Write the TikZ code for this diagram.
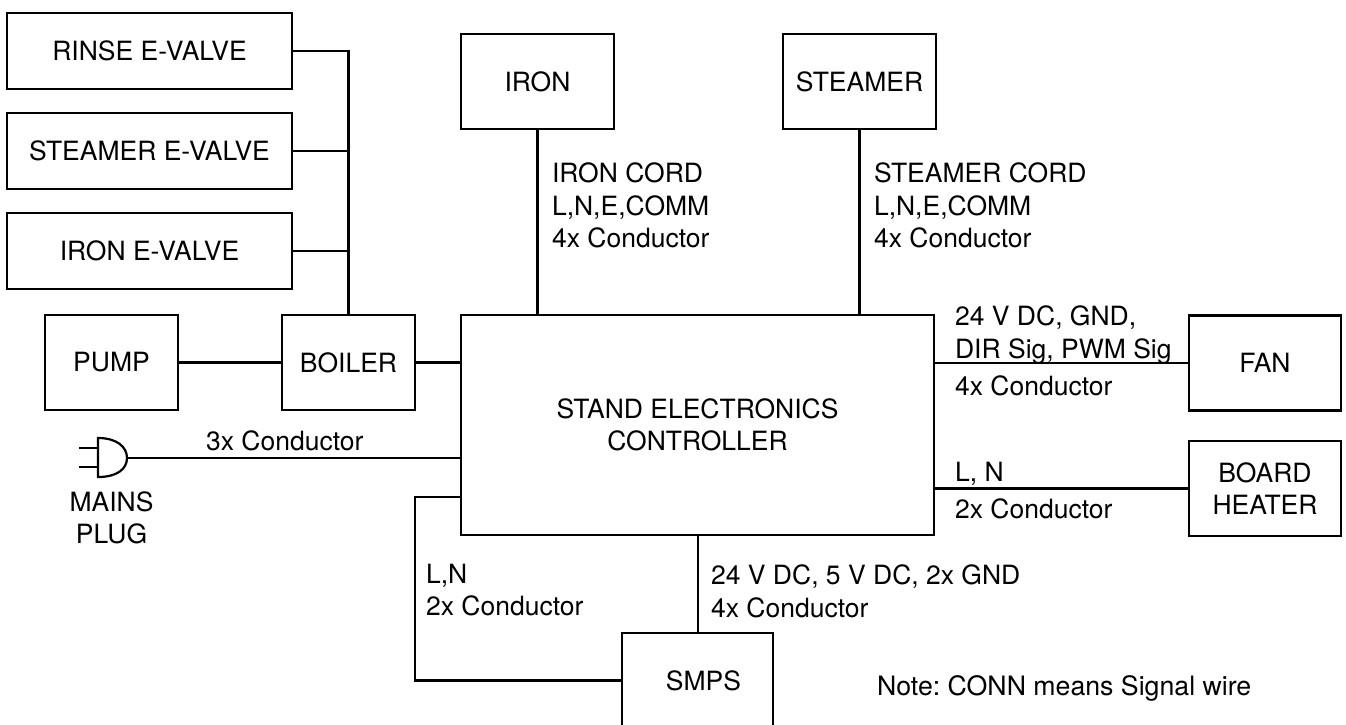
\documentclass[tikz,border=0pt]{standalone}
\usepackage{fontspec}
\setmainfont{TeX Gyre Heros}
\begin{document}
\frenchspacing
\begin{tikzpicture}[x=1pt,y=-1pt,line width=2.2pt,
  block/.style={draw,inner sep=0pt,align=center,font=\fontsize{26.5}{32}\selectfont},
  lab/.style={anchor=north west,inner sep=0pt,align=left,font=\fontsize{26.5}{32.3}\selectfont},
  wire/.style={line cap=butt}]
\useasboundingbox (0,0) rectangle (1346,724);
\begin{scope}
\clip (0,0) rectangle (1346,724);
\node[block,minimum width=285pt,minimum height=76pt] (rinse) at (149.5,51) {RINSE E-VALVE};
\node[block,minimum width=285pt,minimum height=76pt] (steamerv) at (149.5,151) {STEAMER E-VALVE};
\node[block,minimum width=285pt,minimum height=76pt] (ironv) at (149.5,251) {IRON E-VALVE};
\node[block,minimum width=133pt,minimum height=95pt] (pump) at (111.5,362.5) {PUMP};
\node[block,minimum width=133pt,minimum height=95pt] (boiler) at (348.5,362.5) {BOILER};
\node[block,minimum width=153pt,minimum height=95pt] (iron) at (537.5,81.5) {IRON};
\node[block,minimum width=153pt,minimum height=95pt] (steamer) at (859.5,81.5) {STEAMER};
\node[block,minimum width=473pt,minimum height=220pt] (ctrl) at (697.5,425) {STAND ELECTRONICS\\CONTROLLER};
\node[block,minimum width=152pt,minimum height=95pt] (fan) at (1265,363) {FAN};
\node[block,minimum width=152pt,minimum height=95pt] (heater) at (1265,488.5) {BOARD\\HEATER};
\node[block,minimum width=151pt,minimum height=95pt] (smps) at (697.5,680.5) {\raisebox{-3pt}{\hspace*{12pt}SMPS}};
\end{scope}
% mains plug
\coordinate (plugtip) at (127,458);
\coordinate (plugtop) at (98,438);
\coordinate (plugbot) at (98,477);
\draw (plugtop) -- (plugbot) .. controls (117,477) and (127,469) .. (plugtip) .. controls (127,447) and (117,438) .. (plugtop) -- cycle;
\coordinate (prongA) at (79,448);
\coordinate (prongAin) at (98,448);
\coordinate (prongB) at (79,467);
\coordinate (prongBin) at (98,467);
\draw (prongA) -- (prongAin);
\draw (prongB) -- (prongBin);
\node[block,draw=none] (mainslabel) at (111.5,518) {MAINS\\PLUG};
% wiring
\draw[wire] (rinse.east) -| (boiler.north);
\draw[wire] (steamerv.east) -- (steamerv.east -| boiler.north);
\draw[wire] (ironv.east) -- (ironv.east -| boiler.north);
\draw[wire] (pump.east) -- (boiler.west);
\draw[wire] (boiler.east) -- (boiler.east -| ctrl.west);
\draw[wire] (iron.south) -- (iron.south |- ctrl.north);
\draw[wire] (steamer.south) -- (steamer.south |- ctrl.north);
\draw[wire] (fan.west -| ctrl.east) -- (fan.west);
\draw[wire] (heater.west -| ctrl.east) -- (heater.west);
\draw[wire] (plugtip) -- (plugtip -| ctrl.west);
\coordinate (ctrlsmps) at (461,497);
\coordinate (turn) at (415,497);
\draw[wire] (ctrlsmps) -- (turn) |- (smps.west);
\coordinate (smpstop) at (698,633);
\draw[wire] (smpstop |- ctrl.south) -- (smpstop);
% labels
\node[lab] (l1) at (551,162) {IRON CORD\\L,N,E,COMM\\4x Conductor};
\node[lab] (l2) at (873,162) {STEAMER CORD\\L,N,E,COMM\\4x Conductor};
\node[lab] (l3) at (954,305) {24 V DC, GND,\\DIR Sig, PWM Sig};
\node[lab] (l4) at (954,375) {4x Conductor};
\node[lab] (l5) at (954,461) {L, N};
\node[lab] (l6) at (954,498) {2x Conductor};
\node[lab] (l7) at (205,430) {3x Conductor};
\node[lab] (l8) at (425,563) {L,N\\2x Conductor};
\node[lab] (l9) at (710,564) {24 V DC, 5 V DC, 2x GND\\4x Conductor};
\node[lab,font=\fontsize{26.7}{32.3}\selectfont] (l10) at (876,674) {Note: CONN means Signal wire};
\end{tikzpicture}
\end{document}
